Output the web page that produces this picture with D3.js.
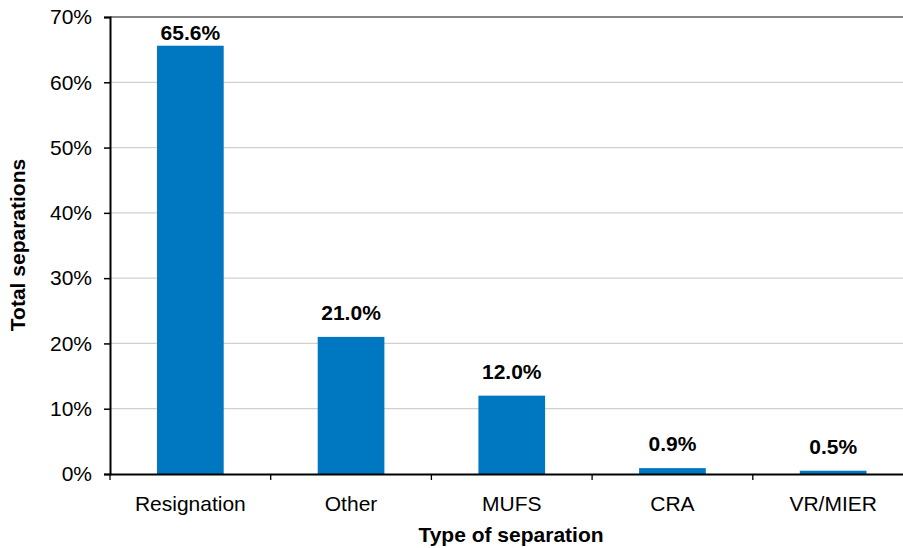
<!DOCTYPE html>
<html>
<head>
<meta charset="utf-8">
<script src="https://cdn.jsdelivr.net/npm/d3@7"></script>
<style>
  body { margin: 0; background: #fff; }
  svg { display: block; font-family: "Liberation Sans", Arial, Helvetica, sans-serif; }
</style>
</head>
<body>
<div id="chart"></div>
<script>
// Separations by type (% of total)
const categories = ["Resignation", "Other", "MUFS", "CRA", "VR/MIER"];
const shares = [65.6, 21.0, 12.0, 0.9, 0.5];
const yTicks = [0, 10, 20, 30, 40, 50, 60, 70];

const width = 903, height = 548;
const margin = { top: 17, right: -10.5, bottom: 74, left: 110 };

const svg = d3.select("#chart").append("svg")
  .attr("width", width)
  .attr("height", height);

// --- Scales ---
const x = d3.scaleBand()
  .domain(categories)
  .range([margin.left, width - margin.right])
  .padding(0);

const y = d3.scaleLinear()
  .domain([0, 70])
  .range([height - margin.bottom, margin.top]);

const barW = x.bandwidth() * 0.415;

// --- Gridlines ---
svg.append("g")
  .selectAll("line")
  .data(yTicks.filter(t => t > 0 && t < 70))
  .join("line")
  .attr("x1", margin.left)
  .attr("x2", width)
  .attr("y1", d => y(d))
  .attr("y2", d => y(d))
  .attr("stroke", "#d0d0d0")
  .attr("stroke-width", 1.2);

// top border
svg.append("line")
  .attr("x1", margin.left)
  .attr("x2", width)
  .attr("y1", y(70))
  .attr("y2", y(70))
  .attr("stroke", "#858585")
  .attr("stroke-width", 2.2);

// --- Bars ---
svg.append("g")
  .selectAll("rect")
  .data(categories)
  .join("rect")
  .attr("x", (d) => x(d) + (x.bandwidth() - barW) / 2)
  .attr("y", (d, i) => y(shares[i]))
  .attr("width", barW)
  .attr("height", (d, i) => y(0) - y(shares[i]))
  .attr("fill", "#0078c1");

// --- Value labels ---
svg.append("g")
  .selectAll("text")
  .data(categories)
  .join("text")
  .attr("x", d => x(d) + x.bandwidth() / 2)
  .attr("y", (d, i) => Math.max(y(shares[i]) - 17, y(70) + 23))
  .attr("text-anchor", "middle")
  .attr("font-size", 21)
  .attr("font-weight", "bold")
  .attr("fill", "#000")
  .text((d, i) => shares[i].toFixed(1) + "%");

// --- Y axis ---
const yAxis = svg.append("g")
  .attr("transform", `translate(${margin.left},0)`)
  .call(d3.axisLeft(y).tickValues(yTicks).tickFormat(d => d + "%").tickSize(6).tickPadding(12));
yAxis.select(".domain").attr("stroke", "#000").attr("stroke-width", 2);
yAxis.selectAll(".tick line").attr("stroke", "#000").attr("stroke-width", 1.5);
yAxis.selectAll(".tick text")
  .attr("font-size", 21)
  .attr("font-family", "Liberation Sans, Arial, sans-serif")
  .attr("fill", "#000");

// --- X axis ---
const xAxis = svg.append("g")
  .attr("transform", `translate(0,${y(0)})`)
  .call(d3.axisBottom(x).tickSize(0).tickPadding(22).tickSizeOuter(0));
xAxis.select(".domain").attr("stroke", "#000").attr("stroke-width", 2);
xAxis.selectAll(".tick text")
  .attr("font-size", 21)
  .attr("font-family", "Liberation Sans, Arial, sans-serif")
  .attr("fill", "#000");

// category boundary ticks
svg.append("g")
  .selectAll("line")
  .data(categories)
  .join("line")
  .attr("x1", d => x(d))
  .attr("x2", d => x(d))
  .attr("y1", y(0))
  .attr("y2", y(0) + 6)
  .attr("stroke", "#000")
  .attr("stroke-width", 1.3);

// --- Axis titles ---
svg.append("text")
  .attr("x", 511)
  .attr("y", 542)
  .attr("text-anchor", "middle")
  .attr("font-size", 21)
  .attr("font-weight", "bold")
  .text("Type of separation");

svg.append("text")
  .attr("transform", "translate(25,245) rotate(-90)")
  .attr("text-anchor", "middle")
  .attr("font-size", 21)
  .attr("font-weight", "bold")
  .text("Total separations");
</script>
</body>
</html>
